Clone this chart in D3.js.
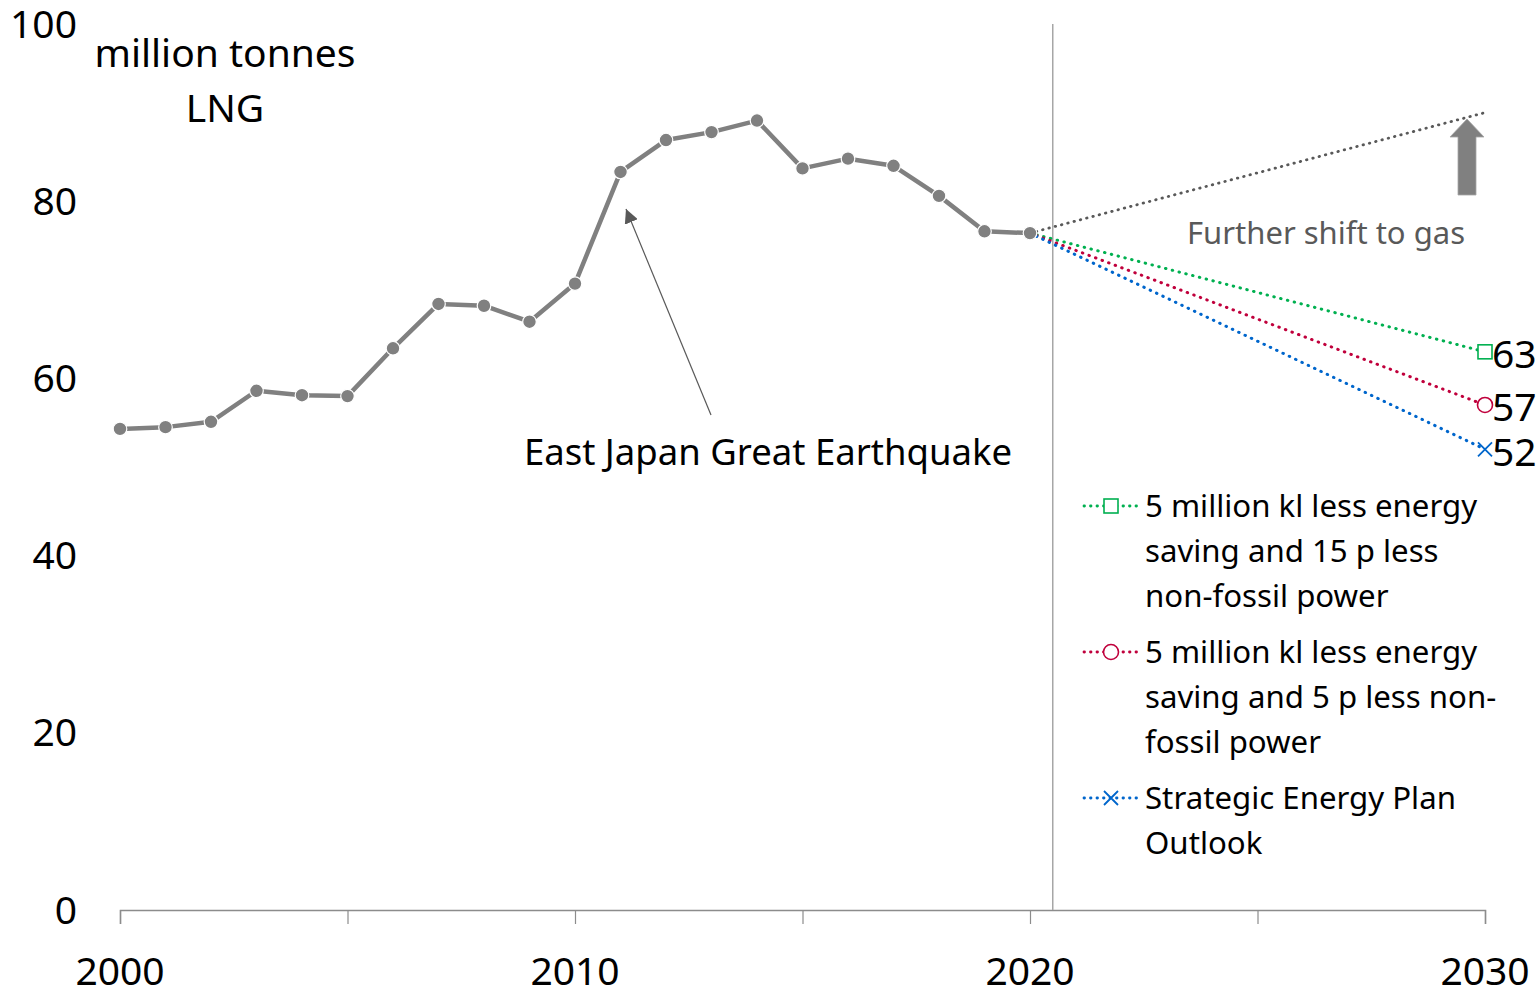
<!DOCTYPE html>
<html>
<head>
<meta charset="utf-8">
<script src="https://cdn.jsdelivr.net/npm/d3@7"></script>
<style>
  html, body { margin: 0; padding: 0; background: #ffffff; }
  svg { display: block; }
  text { font-family: "Noto Sans", "Open Sans", sans-serif; }
</style>
</head>
<body>
<svg id="chart" width="1537" height="990"></svg>
<script>
// Japan LNG demand, million tonnes
const years = [2000, 2001, 2002, 2003, 2004, 2005, 2006, 2007, 2008, 2009, 2010,
               2011, 2012, 2013, 2014, 2015, 2016, 2017, 2018, 2019, 2020];
const lngDemand = [54.3, 54.5, 55.1, 58.6, 58.1, 58.0, 63.4, 68.4, 68.2, 66.4, 70.7,
                   83.3, 86.9, 87.8, 89.1, 83.7, 84.8, 84.0, 80.6, 76.6, 76.4];

// 2030 outlooks, starting from the 2020 value
const scenarioNames = [
  ["5 million kl less energy", "saving and 15 p less", "non-fossil power"],
  ["5 million kl less energy", "saving and 5 p less non-", "fossil power"],
  ["Strategic Energy Plan", "Outlook"]
];
const scenario2030 = [63, 57, 52];
const scenarioColors = ["#00b050", "#c0003c", "#0066cc"];
const scenarioSymbols = ["square", "circle", "cross"];
const gasShift2030 = 90.0;

const yTicks = [0, 20, 40, 60, 80, 100];
const xTickLabels = [2000, 2010, 2020, 2030];
const xMinorTicks = [2000, 2005, 2010, 2015, 2020, 2025, 2030];

const svg = d3.select("#chart");
const x = d3.scaleLinear().domain([2000, 2030]).range([120, 1485]);
const y = d3.scaleLinear().domain([0, 100]).range([910, 24]);

// y tick labels (no axis line)
svg.append("g").selectAll("text").data(yTicks).join("text")
  .attr("x", 77).attr("y", d => y(d) - 2)
  .attr("text-anchor", "end").attr("dominant-baseline", "central")
  .attr("font-size", 39).attr("fill", "#000")
  .text(d => d);

// x axis
const xAxis = svg.append("g").attr("transform", `translate(0,${y(0)})`)
  .call(d3.axisBottom(x).tickValues(xMinorTicks).tickSize(14).tickFormat(""));
xAxis.select(".domain").attr("stroke", "#8c8c8c").attr("stroke-width", 1.5);
xAxis.selectAll(".tick line").attr("stroke", "#8c8c8c").attr("stroke-width", 1.2);

svg.append("g").selectAll("text").data(xTickLabels).join("text")
  .attr("x", d => x(d)).attr("y", 985)
  .attr("text-anchor", "middle")
  .attr("font-size", 39).attr("fill", "#000")
  .text(d => d);

// divider after the last actual year
svg.append("line")
  .attr("x1", x(2020.5)).attr("x2", x(2020.5))
  .attr("y1", y(100)).attr("y2", y(0))
  .attr("stroke", "#a6a6a6").attr("stroke-width", 1.5);

// unit label
svg.append("text").attr("x", 225).attr("y", 51)
  .attr("text-anchor", "middle").attr("dominant-baseline", "central")
  .attr("font-size", 39).attr("fill", "#000").text("million tonnes");
svg.append("text").attr("x", 225).attr("y", 106)
  .attr("text-anchor", "middle").attr("dominant-baseline", "central")
  .attr("font-size", 39).attr("fill", "#000").text("LNG");

const lastYear = years[years.length - 1];
const lastVal = lngDemand[lngDemand.length - 1];

// "further shift to gas" projection
svg.append("line")
  .attr("x1", x(lastYear)).attr("y1", y(lastVal))
  .attr("x2", x(2030)).attr("y2", y(gasShift2030))
  .attr("stroke", "#595959").attr("stroke-width", 2.8)
  .attr("stroke-linecap", "round")
  .attr("stroke-dasharray", "0.5,6");

// scenario projections
scenario2030.forEach((v, i) => {
  svg.append("line")
    .attr("x1", x(lastYear)).attr("y1", y(lastVal))
    .attr("x2", x(2030)).attr("y2", y(v))
    .attr("stroke", scenarioColors[i]).attr("stroke-width", 3)
    .attr("stroke-linecap", "round")
    .attr("stroke-dasharray", "0.5,6.5");
});

function drawSymbol(g, kind, cx, cy, color) {
  if (kind === "square") {
    g.append("rect").attr("x", cx - 7).attr("y", cy - 7).attr("width", 14).attr("height", 14)
      .attr("fill", "#fff").attr("stroke", color).attr("stroke-width", 1.6);
  } else if (kind === "circle") {
    g.append("circle").attr("cx", cx).attr("cy", cy).attr("r", 7.5)
      .attr("fill", "#fff").attr("stroke", color).attr("stroke-width", 1.6);
  } else {
    g.append("path")
      .attr("d", `M${cx - 7},${cy - 7}L${cx + 7},${cy + 7}M${cx - 7},${cy + 7}L${cx + 7},${cy - 7}`)
      .attr("stroke", color).attr("stroke-width", 1.8).attr("fill", "none");
  }
}

const markG = svg.append("g");
scenario2030.forEach((v, i) => {
  drawSymbol(markG, scenarioSymbols[i], x(2030), y(v), scenarioColors[i]);
  markG.append("text")
    .attr("x", x(2030) + 7).attr("y", y(v) + 1)
    .attr("dominant-baseline", "central")
    .attr("font-size", 39).attr("fill", "#000")
    .text(v);
});

// actual demand line
const line = d3.line().x((d, i) => x(years[i])).y(d => y(d));
svg.append("path").datum(lngDemand)
  .attr("d", line).attr("fill", "none")
  .attr("stroke", "#808080").attr("stroke-width", 4.5)
  .attr("stroke-linejoin", "round");
svg.append("g").selectAll("circle").data(lngDemand).join("circle")
  .attr("cx", (d, i) => x(years[i])).attr("cy", d => y(d))
  .attr("r", 6.8).attr("fill", "#808080")
  .attr("stroke", "#ffffff").attr("stroke-width", 1.2);

// earthquake annotation
svg.append("defs").append("marker")
  .attr("id", "tri").attr("viewBox", "0 0 10 10")
  .attr("refX", 10).attr("refY", 5)
  .attr("markerWidth", 14).attr("markerHeight", 14)
  .attr("markerUnits", "userSpaceOnUse")
  .attr("orient", "auto")
  .append("path").attr("d", "M0,0L10,5L0,10Z").attr("fill", "#595959");
svg.append("line")
  .attr("x1", 711).attr("y1", 415).attr("x2", 626).attr("y2", 209)
  .attr("stroke", "#595959").attr("stroke-width", 1.2)
  .attr("marker-end", "url(#tri)");
svg.append("text").attr("x", 768).attr("y", 451)
  .attr("text-anchor", "middle").attr("dominant-baseline", "central")
  .attr("font-size", 36.5).attr("fill", "#000")
  .text("East Japan Great Earthquake");

// block arrow and label for the gas shift
const ax = 1467;
svg.append("path")
  .attr("d", `M${ax},119 L${ax + 17},137 L${ax + 9},137 L${ax + 9},195 L${ax - 9},195 L${ax - 9},137 L${ax - 17},137 Z`)
  .attr("fill", "#808080").attr("stroke", "#a6a6a6").attr("stroke-width", 0.8);
svg.append("text").attr("x", 1465).attr("y", 232)
  .attr("text-anchor", "end").attr("dominant-baseline", "central")
  .attr("font-size", 31).attr("fill", "#595959")
  .text("Further shift to gas");

// legend
const legendTops = [506, 652, 798];
const lg = svg.append("g");
scenarioNames.forEach((lines, i) => {
  const ly = legendTops[i];
  lg.append("line").attr("x1", 1084).attr("x2", 1140).attr("y1", ly).attr("y2", ly)
    .attr("stroke", scenarioColors[i]).attr("stroke-width", 2.8)
    .attr("stroke-linecap", "round")
    .attr("stroke-dasharray", "0.5,6");
  drawSymbol(lg, scenarioSymbols[i], 1111, ly, scenarioColors[i]);
  lines.forEach((t, j) => {
    lg.append("text").attr("x", 1145).attr("y", ly + j * 45 - 1)
      .attr("dominant-baseline", "central")
      .attr("font-size", 31.2).attr("fill", "#000").text(t);
  });
});
</script>
</body>
</html>
